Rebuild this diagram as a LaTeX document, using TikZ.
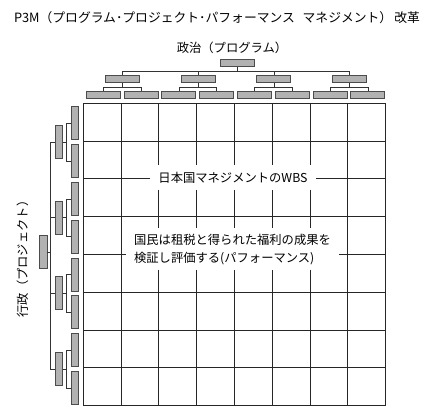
\documentclass[tikz,border=0pt]{standalone}
\usepackage{fontspec}
\setmainfont{Noto Sans CJK JP}
\begin{document}
\begin{tikzpicture}[
  x=1pt, y=-1pt,
  hbox/.style={rectangle, draw=black!70, fill=black!30, line width=0.7pt, minimum width=34pt, minimum height=7pt, inner sep=0pt},
  vbox/.style={hbox, minimum width=7.5pt, minimum height=33pt},
  tree/.style={draw=black!80, line width=0.6pt},
  cellline/.style={draw=black!85, line width=0.9pt},
  jp/.style={font=\fontsize{12.3pt}{17.6pt}\selectfont},
  cover/.style={jp, fill=white, inner xsep=8.5pt}
]
\useasboundingbox (0,0) rectangle (430,414);

% titles
\node[font=\fontsize{12.8pt}{15pt}\selectfont] (title) at (217,18) {P3M（プログラム･プロジェクト･パフォーマンス\hspace{0.6em}マネジメント）\,改革};
\node[jp] (seiji) at (232,48) {政治（プログラム）};
\node[jp, rotate=90] (gyosei) at (23,256) {行政（プロジェクト）};

% 8x8 grid, cell 37.8
\foreach \i in {0,...,8} {
  \draw[cellline] (83.3+37.8*\i,103.3) -- (83.3+37.8*\i,405.7);
  \draw[cellline] (83.3,103.3+37.8*\i) -- (385.7,103.3+37.8*\i);
}

% program tree (top)
\node[hbox] (p0) at (237.7,63.3) {};
\foreach \i in {1,...,4} {
  \node[hbox] (p\i) at (47+75.6*\i,79.3) {};
  \draw[tree] (p0.south) |- ([yshift=4.5pt]p\i.north) -- (p\i.north);
  \foreach \j in {1,2} {
    \node[hbox] (p\i\j) at (-10.2+75.6*\i+37.8*\j,94.5) {};
    \draw[tree] (p\i.south) |- ([yshift=3.5pt]p\i\j.north) -- (p\i\j.north);
  }
}

% project tree (left)
\node[vbox] (j0) at (43.3,252.3) {};
\foreach \i in {1,...,4} {
  \node[vbox] (j\i) at (58.8,66.5+75.6*\i) {};
  \draw[tree] (j0.east) -| ([xshift=-4pt]j\i.west) -- (j\i.west);
  \foreach \j in {1,2} {
    \node[vbox] (j\i\j) at (74.7,9.8+75.6*\i+37.8*\j) {};
    \draw[tree] (j\i.east) -| ([xshift=-4.3pt]j\i\j.west) -- (j\i\j.west);
  }
}

% labels over the grid
\node[cover, minimum height=25pt] (wbs) at (233,177.5) {日本国マネジメントのWBS};
\node[cover, align=left, inner ysep=6pt] (perf) at (232.5,249.3) {国民は租税と得られた福利の成果を\\検証し評価する(パフォーマンス)};
\end{tikzpicture}
\end{document}
